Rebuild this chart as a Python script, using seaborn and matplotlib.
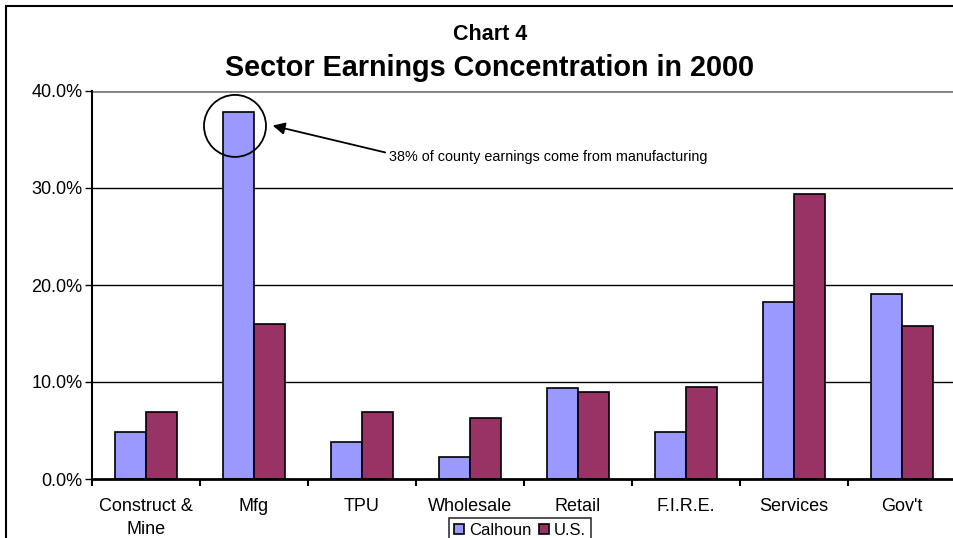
import matplotlib
matplotlib.use("Agg")
import matplotlib.pyplot as plt
import seaborn as sns
import pandas as pd
from matplotlib.patches import Ellipse, Rectangle, Patch
from matplotlib.ticker import FuncFormatter, FixedLocator

categories = ["Construct &\nMine", "Mfg", "TPU", "Wholesale", "Retail", "F.I.R.E.", "Services", "Gov't"]
calhoun = [4.8, 37.8, 3.8, 2.3, 9.4, 4.8, 18.2, 19.1]
us = [6.9, 16.0, 6.9, 6.3, 9.0, 9.5, 29.4, 15.8]
series = ["Calhoun", "U.S."]
colors = {"Calhoun": "#9999FF", "U.S.": "#993366"}

df = pd.DataFrame({
    "Sector": categories * 2,
    "Series": ["Calhoun"] * len(categories) + ["U.S."] * len(categories),
    "Value": calhoun + us,
})

sns.set_style("white")
plt.rcParams['font.family'] = ['Liberation Sans', 'DejaVu Sans']
plt.rcParams['text.color'] = 'black'
plt.rcParams['xtick.color'] = 'black'
plt.rcParams['ytick.color'] = 'black'
plt.rcParams['axes.labelcolor'] = 'black'

fig = plt.figure(figsize=(9.54, 5.38), dpi=100)
ax = fig.add_axes([92/954, 1-479/538, 864/954, 388/538])

sns.barplot(data=df, x="Sector", y="Value", hue="Series", order=categories,
            hue_order=series, palette=colors, width=0.58, gap=0,
            edgecolor="black", linewidth=1.2, saturation=1, ax=ax, legend=False)

ax.set_xlim(-0.5, 7.5)
ax.set_ylim(0, 40)
ax.set_yticks([0, 10, 20, 30, 40])
ax.yaxis.set_major_formatter(FuncFormatter(lambda v, p: f"{v:.1f}%"))
ax.set_xlabel("")
ax.set_ylabel("")
for y in [10, 20, 30]:
    ax.axhline(y, color="black", lw=1, zorder=0)
ax.axhline(40, color="#808080", lw=2, zorder=0)

for s in ["top", "right"]:
    ax.spines[s].set_visible(False)
ax.spines["left"].set_linewidth(1.5)
ax.spines["bottom"].set_linewidth(2)
ax.spines["left"].set_color("black")
ax.spines["bottom"].set_color("black")

ax.tick_params(axis="y", which="major", direction="out", length=5, width=1, labelsize=13, left=True, pad=2)
ax.tick_params(axis="x", which="major", length=0, labelsize=13, pad=14)
for lbl in ax.get_xticklabels():
    lbl.set_linespacing(1.45)
ax.xaxis.set_minor_locator(FixedLocator([i - 0.5 for i in range(9)]))
ax.tick_params(axis="x", which="minor", direction="out", length=5, width=1.5, bottom=True)

# annotation circle and arrow
circ = Ellipse((0.824, 36.4), width=62/108, height=62/9.7, fill=False,
               edgecolor="black", lw=1.3, zorder=5, clip_on=False)
ax.add_patch(circ)
ax.annotate("", xy=(1.148, 36.5), xytext=(2.24, 33.6),
            arrowprops=dict(arrowstyle="-|>", color="black", lw=1.3, mutation_scale=18))
ax.text(2.25, 33.2, "38% of county earnings come from manufacturing",
        fontsize=10.4, ha="left", va="center")

fig.text(490/954, 1-34/538, "Chart 4", fontsize=15.5, fontweight="bold", ha="center", va="center")
fig.text(490/954, 1-68/538, "Sector Earnings Concentration in 2000", fontsize=20.7, fontweight="bold", ha="center", va="center")

# outer frame
fig.patches.append(Rectangle((6/954, -0.1), 1.1, 1 - 6/538 + 0.1, transform=fig.transFigure,
                             fill=False, edgecolor="black", lw=1.5, zorder=0))

handles = [Patch(facecolor=colors[s], edgecolor="black", lw=1.2, label=s) for s in series]
leg = fig.legend(handles=handles, loc="upper center", bbox_to_anchor=(520/954, 1-518/538),
                 ncol=2, frameon=True, fancybox=False, fontsize=12, handlelength=0.55,
                 handleheight=0.55, handletextpad=0.3, columnspacing=0.5, borderpad=0.3,
                 borderaxespad=0)
leg.get_frame().set_edgecolor("black")
leg.get_frame().set_linewidth(1.2)

fig.savefig("out.png", dpi=100)
